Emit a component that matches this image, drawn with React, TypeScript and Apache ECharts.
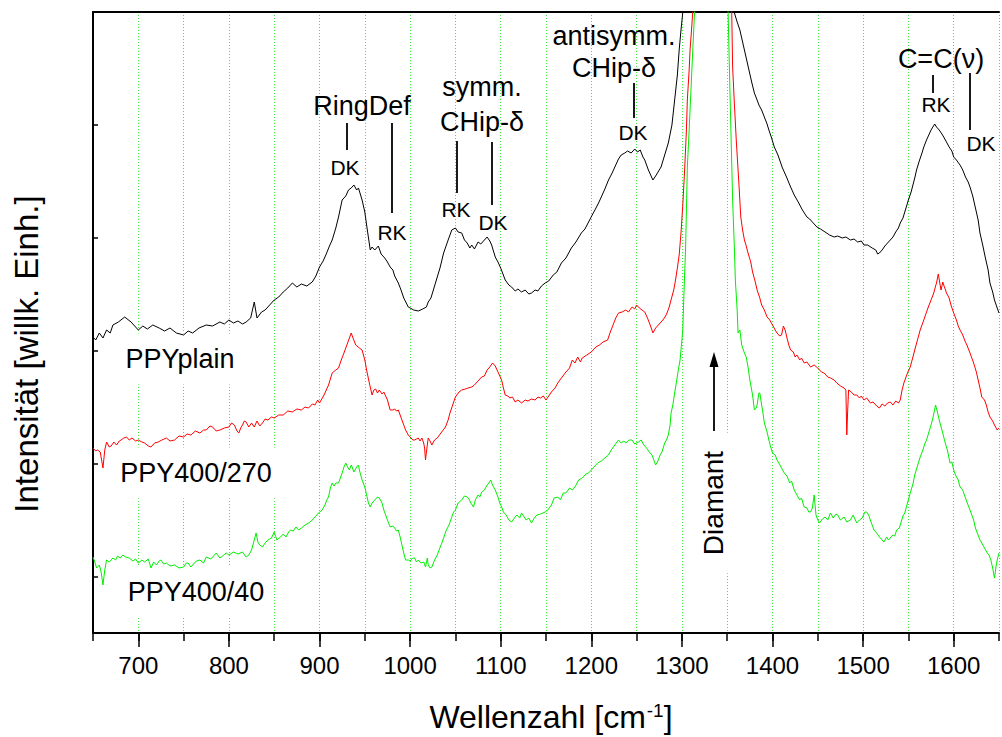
import React, { useEffect, useRef } from 'react';
import * as echarts from 'echarts';

const FONT = '"Liberation Sans", Arial, Helvetica, sans-serif';

const xMin = 650;
const xMax = 1650;
const xLabelValues = [700, 800, 900, 1000, 1100, 1200, 1300, 1400, 1500, 1600];
const yTickValues = [56, 169, 282, 395, 508, 621];
const seriesNames = ['PPYplain', 'PPY400/270', 'PPY400/40'];

// [Wellenzahl cm^-1, Intensität (willk. Einh.)]
const ppyPlain: [number, number][] = [
  [650,296],[653,293],[657,300],[661,295],[665,303],[669,300],[672,308],[678,311],[685,316],[692,311],
  [697,306],[700,303],[705,307],[710,304],[716,308],[723,305],[729,302],[735,305],[742,300],[750,298],
  [755,302],[760,300],[767,305],[775,308],[782,307],[790,311],[795,309],[800,313],[805,310],[810,312],
  [815,309],[819,311],[824,315],[828,331],[831,315],[836,321],[840,323],[845,328],[850,333],[855,336],
  [860,341],[865,345],[870,350],[875,346],[880,349],[886,347],[892,351],[896,357],[900,366],[904,372],
  [907,378],[911,387],[914,393],[918,405],[921,416],[925,433],[929,437],[932,443],[935,445],[938,448],
  [941,443],[943,445],[947,433],[950,421],[952,408],[956,383],[958,386],[961,383],[965,387],[968,379],
  [972,375],[975,371],[978,366],[981,363],[983,357],[987,350],[990,343],[993,335],[998,326],[1004,323],
  [1009,322],[1014,324],[1018,326],[1020,331],[1023,335],[1028,350],[1033,365],[1037,380],[1042,393],[1046,403],
  [1050,405],[1053,401],[1057,400],[1060,393],[1063,390],[1066,385],[1068,388],[1071,384],[1075,391],[1078,389],
  [1082,393],[1085,396],[1088,392],[1090,388],[1094,376],[1097,371],[1100,365],[1105,353],[1109,348],[1112,346],
  [1116,342],[1119,344],[1123,341],[1127,343],[1131,339],[1134,340],[1138,343],[1141,342],[1145,347],[1149,350],
  [1153,352],[1158,358],[1162,361],[1167,370],[1172,375],[1178,385],[1183,391],[1189,400],[1193,404],[1197,411],
  [1201,418],[1204,423],[1208,430],[1212,438],[1215,444],[1219,453],[1223,460],[1226,466],[1230,474],[1233,478],
  [1237,480],[1240,482],[1244,480],[1248,484],[1251,481],[1254,483],[1257,476],[1259,473],[1263,463],[1266,457],
  [1268,453],[1271,457],[1273,460],[1277,466],[1281,478],[1285,490],[1289,508],[1292,533],[1295,558],[1297,583],
  [1299,603],[1301,621],[1304,673],[1310,933],[1320,1533],[1332,1933],[1345,1133],[1353,713],[1356,643],[1358,620],
  [1361,611],[1364,603],[1367,591],[1369,583],[1372,571],[1374,563],[1377,551],[1380,540],[1383,533],[1385,528],
  [1388,523],[1391,516],[1394,509],[1396,503],[1399,495],[1402,486],[1406,478],[1411,465],[1415,457],[1420,446],
  [1424,438],[1429,430],[1433,423],[1438,416],[1441,414],[1444,411],[1447,408],[1449,406],[1453,404],[1458,401],
  [1463,398],[1468,396],[1472,397],[1477,395],[1481,396],[1486,393],[1490,394],[1494,391],[1498,392],[1501,388],
  [1505,388],[1510,385],[1514,383],[1516,379],[1518,380],[1521,383],[1524,387],[1527,390],[1530,393],[1533,396],
  [1536,401],[1539,405],[1541,410],[1544,415],[1546,421],[1548,427],[1550,433],[1553,441],[1555,448],[1557,455],
  [1559,463],[1562,472],[1565,480],[1567,486],[1570,493],[1573,499],[1575,503],[1577,506],[1579,509],[1581,506],
  [1584,503],[1587,499],[1589,496],[1592,491],[1595,486],[1598,482],[1600,476],[1603,473],[1607,468],[1610,463],
  [1613,456],[1616,451],[1618,446],[1621,437],[1624,425],[1627,413],[1629,400],[1632,388],[1635,375],[1638,363],
  [1640,350],[1643,341],[1645,333],[1648,325],[1650,320],
];

const ppy400_270: [number, number][] = [
  [650,185],[653,182],[655,183],[658,181],[661,165],[663,183],[665,191],[668,186],[670,187],[673,191],
  [676,188],[679,192],[681,193],[684,195],[687,196],[690,193],[693,195],[697,192],[700,193],[704,191],
  [707,190],[711,187],[714,186],[718,190],[722,191],[726,193],[731,195],[735,192],[740,193],[745,197],
  [750,196],[754,199],[758,198],[763,202],[768,200],[772,203],[775,203],[779,207],[782,206],[786,202],
  [790,203],[795,205],[800,206],[803,210],[806,208],[809,202],[811,200],[813,205],[815,208],[817,212],
  [819,211],[822,206],[825,210],[828,206],[831,212],[834,207],[837,210],[840,214],[843,213],[847,216],
  [850,215],[855,218],[860,218],[865,222],[870,221],[875,224],[880,223],[884,226],[888,225],[892,229],
  [895,228],[898,233],[900,230],[905,238],[910,248],[914,260],[918,263],[921,265],[924,273],[927,280],
  [931,290],[933,295],[935,300],[937,295],[940,288],[944,285],[947,283],[950,273],[952,263],[955,250],
  [958,238],[960,243],[962,244],[964,240],[966,243],[969,239],[971,241],[975,233],[978,223],[981,223],
  [983,224],[985,222],[987,223],[991,213],[995,203],[998,198],[1000,196],[1003,193],[1005,193],[1009,195],
  [1011,192],[1013,195],[1015,190],[1016,185],[1017,173],[1018,181],[1020,195],[1022,192],[1024,188],[1027,193],
  [1030,195],[1034,200],[1039,206],[1042,213],[1044,220],[1047,228],[1050,236],[1054,241],[1057,243],[1061,244],
  [1064,245],[1068,246],[1071,248],[1075,252],[1079,256],[1082,257],[1085,263],[1088,266],[1091,270],[1094,267],
  [1096,263],[1099,257],[1101,253],[1103,245],[1105,238],[1108,237],[1110,235],[1113,236],[1116,231],[1119,233],
  [1123,230],[1127,233],[1130,232],[1134,234],[1138,233],[1141,236],[1144,235],[1147,237],[1150,233],[1153,237],
  [1156,241],[1160,245],[1163,250],[1167,255],[1172,261],[1176,265],[1179,273],[1182,270],[1185,276],[1188,271],
  [1190,275],[1195,278],[1200,281],[1205,286],[1209,288],[1213,291],[1218,293],[1221,301],[1224,308],[1227,315],
  [1230,320],[1234,321],[1238,323],[1241,321],[1245,326],[1248,324],[1250,328],[1253,325],[1256,323],[1259,321],
  [1262,315],[1265,308],[1268,300],[1271,305],[1274,308],[1277,311],[1279,313],[1282,317],[1284,321],[1286,326],
  [1288,333],[1291,343],[1293,353],[1295,365],[1297,378],[1299,400],[1301,428],[1303,463],[1305,503],[1306,533],
  [1308,563],[1309,583],[1311,608],[1312,621],[1314,673],[1322,1133],[1332,1633],[1345,1033],[1352,693],[1354,638],
  [1355,621],[1356,566],[1358,528],[1360,493],[1363,448],[1365,416],[1367,403],[1369,393],[1371,387],[1373,380],
  [1376,371],[1378,361],[1381,351],[1383,343],[1386,335],[1388,328],[1391,323],[1394,316],[1397,313],[1400,308],
  [1403,303],[1405,300],[1408,297],[1410,298],[1412,307],[1414,303],[1416,295],[1418,288],[1420,283],[1423,281],
  [1425,276],[1427,278],[1430,273],[1432,275],[1435,270],[1438,271],[1442,266],[1446,268],[1450,265],[1454,261],
  [1457,260],[1461,256],[1464,255],[1468,253],[1471,250],[1475,247],[1479,245],[1481,243],[1482,198],[1483,223],
  [1484,243],[1487,241],[1490,238],[1493,238],[1496,235],[1498,237],[1501,233],[1504,235],[1508,230],[1511,231],
  [1515,227],[1518,225],[1521,229],[1524,227],[1527,230],[1530,231],[1533,228],[1536,232],[1539,230],[1541,233],
  [1543,243],[1545,250],[1547,255],[1549,260],[1552,266],[1555,276],[1557,283],[1560,293],[1563,303],[1565,308],
  [1567,313],[1570,321],[1572,326],[1575,333],[1578,340],[1580,347],[1581,350],[1583,359],[1585,348],[1586,343],
  [1588,351],[1589,348],[1591,343],[1592,340],[1595,335],[1597,328],[1600,320],[1603,313],[1605,307],[1607,303],
  [1610,298],[1612,293],[1615,287],[1618,280],[1620,275],[1622,270],[1625,261],[1627,253],[1629,245],[1631,236],
  [1634,233],[1636,228],[1638,221],[1640,216],[1643,212],[1645,208],[1648,203],[1650,205],
];

const ppy400_40: [number, number][] = [
  [650,76],[652,71],[654,65],[657,68],[659,61],[661,48],[663,63],[665,73],[668,71],[672,75],
  [675,73],[677,77],[680,75],[683,78],[686,76],[690,75],[694,72],[697,74],[700,70],[704,73],
  [707,71],[711,74],[714,65],[717,71],[720,68],[723,72],[725,73],[728,69],[731,70],[735,67],
  [740,68],[745,65],[750,66],[753,70],[755,70],[758,66],[760,68],[764,72],[768,73],[772,70],
  [775,76],[780,74],[786,80],[790,75],[793,77],[797,80],[800,78],[805,81],[810,79],[815,81],
  [819,76],[822,78],[825,83],[828,93],[830,100],[832,91],[834,88],[837,86],[840,90],[843,93],
  [847,95],[850,101],[853,93],[857,96],[860,99],[863,96],[866,101],[868,103],[871,102],[874,106],
  [877,103],[880,105],[884,108],[888,110],[891,112],[894,115],[897,118],[900,121],[903,123],[906,128],
  [908,133],[910,136],[912,145],[914,150],[916,147],[918,150],[921,150],[923,155],[925,160],[927,166],
  [929,170],[931,166],[933,163],[935,168],[936,166],[938,161],[941,166],[943,168],[944,163],[947,153],
  [950,146],[952,138],[954,130],[956,126],[958,130],[961,133],[964,136],[966,135],[969,130],[971,123],
  [975,113],[978,106],[981,107],[983,105],[985,102],[987,103],[989,96],[991,88],[993,80],[995,73],
  [998,73],[1000,72],[1003,75],[1005,75],[1007,71],[1009,73],[1012,70],[1015,71],[1017,66],[1019,75],
  [1020,68],[1022,65],[1024,66],[1027,73],[1030,78],[1032,83],[1035,90],[1037,95],[1040,103],[1043,108],
  [1046,116],[1048,121],[1050,123],[1053,130],[1057,133],[1060,137],[1063,136],[1065,134],[1067,130],[1070,126],
  [1072,133],[1075,138],[1077,136],[1079,141],[1082,143],[1085,148],[1087,150],[1089,153],[1091,148],[1094,143],
  [1097,136],[1099,130],[1101,126],[1103,121],[1106,118],[1109,113],[1112,111],[1115,115],[1118,118],[1121,115],
  [1123,120],[1126,116],[1128,113],[1131,115],[1134,110],[1137,115],[1140,118],[1144,119],[1149,121],[1152,123],
  [1156,128],[1159,135],[1163,136],[1166,133],[1169,140],[1172,140],[1176,145],[1179,143],[1182,146],[1186,153],
  [1190,155],[1194,159],[1197,160],[1200,163],[1204,167],[1207,170],[1211,172],[1215,175],[1219,178],[1222,183],
  [1226,188],[1230,193],[1233,190],[1236,192],[1238,190],[1242,193],[1245,193],[1248,189],[1252,191],[1255,193],
  [1258,188],[1261,185],[1264,181],[1267,178],[1269,173],[1271,168],[1273,171],[1276,178],[1278,181],[1281,190],
  [1283,193],[1285,198],[1287,208],[1288,220],[1290,228],[1292,240],[1294,251],[1296,263],[1298,273],[1299,283],
  [1301,303],[1302,333],[1304,383],[1305,423],[1306,466],[1308,503],[1310,543],[1312,583],[1314,621],[1316,673],
  [1324,1133],[1333,1633],[1343,1033],[1349,683],[1351,621],[1353,543],[1356,433],[1358,383],[1359,353],[1361,323],
  [1362,300],[1364,303],[1366,288],[1369,280],[1371,276],[1373,266],[1375,253],[1378,238],[1380,223],[1382,225],
  [1383,228],[1385,240],[1386,240],[1388,228],[1389,223],[1391,210],[1394,201],[1396,193],[1398,186],[1400,180],
  [1403,178],[1405,173],[1407,170],[1410,165],[1413,160],[1416,157],[1419,150],[1421,152],[1424,143],[1427,138],
  [1430,133],[1432,135],[1435,126],[1438,125],[1440,121],[1442,121],[1444,125],[1446,138],[1447,128],[1448,118],
  [1450,113],[1452,110],[1455,114],[1458,116],[1461,113],[1464,120],[1467,115],[1470,119],[1472,118],[1475,113],
  [1479,116],[1482,111],[1486,113],[1489,118],[1493,110],[1496,113],[1499,115],[1502,121],[1504,121],[1506,118],
  [1508,113],[1510,108],[1512,103],[1515,100],[1518,96],[1521,93],[1523,91],[1526,96],[1528,93],[1530,95],
  [1533,98],[1535,97],[1537,103],[1540,105],[1542,111],[1544,117],[1546,120],[1549,130],[1552,140],[1555,149],
  [1557,158],[1560,167],[1563,176],[1566,183],[1568,189],[1570,193],[1572,199],[1575,208],[1577,215],[1580,228],
  [1582,221],[1584,213],[1587,203],[1589,196],[1591,189],[1593,183],[1596,170],[1598,171],[1600,163],[1602,158],
  [1605,153],[1607,146],[1610,143],[1613,135],[1615,130],[1618,123],[1620,118],[1622,113],[1624,105],[1626,100],
  [1629,93],[1631,90],[1634,85],[1637,80],[1639,78],[1641,73],[1643,65],[1645,55],[1647,68],[1648,73],
  [1650,80],
];

const seriesData = [ppyPlain, ppy400_270, ppy400_40];
const seriesColors = ['#000000', '#ff0000', '#00ee00'];

const f = (size: number) => `${size}px ${FONT}`;

function txt(text: string, x: number, y: number, size: number, extra: any = {}) {
  return {
    type: 'text',
    x,
    y,
    z: 10,
    silent: true,
    style: {
      text,
      font: f(size),
      fill: '#000',
      textAlign: 'center',
      textVerticalAlign: 'middle',
      align: 'center',
      verticalAlign: 'middle',
      ...extra,
    },
  };
}

function vline(x: number, y1: number, y2: number) {
  return {
    type: 'line',
    z: 10,
    silent: true,
    shape: { x1: x, y1, x2: x, y2 },
    style: { stroke: '#000', lineWidth: 1.8 },
  };
}

export default function App() {
  const ref = useRef<HTMLDivElement>(null);

  useEffect(() => {
    if (!ref.current) return;
    const chart = echarts.init(ref.current, undefined, { renderer: 'svg' });

    const boxed = { backgroundColor: '#ffffff', padding: [12, 8] };

    const graphic: any[] = [
      // axis titles
      { ...txt('Intensität [willk. Einh.]', 26, 354, 33), rotation: Math.PI / 2 },
      txt('Wellenzahl [cm{sup|-1}]', 551, 717, 32, {
        rich: { sup: { font: f(19), verticalAlign: 'top', padding: [0, 0, 0, 1] } },
      }),
      // curve labels
      { ...txt(seriesNames[0], 180, 359, 27, boxed), z: 1 },
      { ...txt(seriesNames[1], 196, 473, 27, boxed), z: 1 },
      { ...txt(seriesNames[2], 196, 592, 27, boxed), z: 1 },
      // Diamant
      { ...txt('Diamant', 713, 503, 28, { backgroundColor: '#ffffff', padding: [5, 18] }), rotation: Math.PI / 2, z: 1 },
      vline(714, 431, 364),
      {
        type: 'polygon',
        z: 10,
        silent: true,
        shape: { points: [[714, 352], [709.5, 367], [718.5, 367]] },
        style: { fill: '#000' },
      },
      // RingDef
      txt('RingDef', 362, 106, 27),
      vline(347, 123, 150),
      txt('DK', 345, 167, 21),
      vline(392, 123, 213),
      txt('RK', 392, 232, 21),
      // symm. CHip-δ
      txt('symm.', 482, 87, 27),
      txt('CHip-δ', 482, 122, 27),
      vline(457, 141, 193),
      txt('RK', 456, 209, 21),
      vline(492, 142, 205),
      txt('DK', 493, 222, 21),
      // antisymm. CHip-δ
      txt('antisymm.', 614, 36, 27),
      txt('CHip-δ', 614, 68, 27),
      vline(634, 83, 118),
      txt('DK', 633, 132, 21),
      // C=C(ν)
      txt('C=C(ν)', 941, 59, 27),
      vline(933, 75, 93),
      txt('RK', 936, 104, 21),
      vline(970, 73, 130),
      txt('DK', 981, 143, 21),
    ];

    chart.setOption({
      animation: false,
      backgroundColor: '#ffffff',
      grid: { left: 93, top: 12, right: 0, bottom: 104, containLabel: false },
      xAxis: [
        {
          type: 'value',
          min: xMin,
          max: xMax,
          interval: 50,
          position: 'bottom',
          axisLine: { show: true, onZero: false, lineStyle: { color: '#000', width: 2 } },
          axisTick: { show: true, length: 8, lineStyle: { color: '#000', width: 1.5 } },
          axisLabel: {
            show: true,
            margin: 20,
            color: '#000',
            fontSize: 24,
            fontFamily: FONT,
            formatter: (v: number) => (xLabelValues.indexOf(v) >= 0 ? String(v) : ''),
          },
          splitLine: { show: true, lineStyle: { color: '#3de83d', type: [1, 2], width: 1 } },
        },
        {
          type: 'value',
          min: xMin,
          max: xMax,
          position: 'bottom',
          axisLine: { show: false },
          axisTick: { show: true, length: 14, customValues: xLabelValues, lineStyle: { color: '#000', width: 1.5 } },
          axisLabel: { show: false },
          splitLine: { show: false },
        },
        {
          type: 'value',
          min: xMin,
          max: xMax,
          position: 'top',
          axisLine: { show: true, lineStyle: { color: '#000', width: 2 } },
          axisTick: { show: false },
          axisLabel: { show: false },
          splitLine: { show: false },
        },
      ],
      yAxis: {
        type: 'value',
        min: 0,
        max: 621,
        position: 'left',
        axisLine: { show: true, onZero: false, lineStyle: { color: '#000', width: 2 } },
        axisTick: { show: true, inside: true, length: 5, customValues: yTickValues, lineStyle: { color: '#000', width: 1.5 } },
        axisLabel: { show: false },
        splitLine: { show: false },
      },
      series: [2, 1, 0].map((i) => ({
        name: seriesNames[i],
        type: 'line',
        xAxisIndex: 0,
        yAxisIndex: 0,
        data: seriesData[i],
        showSymbol: false,
        symbol: 'none',
        clip: true,
        z: 3,
        lineStyle: { color: seriesColors[i], width: 1 },
        itemStyle: { color: seriesColors[i] },
      })),
      graphic,
    });

    return () => chart.dispose();
  }, []);

  return (
    <div
      ref={ref}
      style={{ position: 'fixed', left: 0, top: 0, width: 1002, height: 737, background: '#fff' }}
    />
  );
}
